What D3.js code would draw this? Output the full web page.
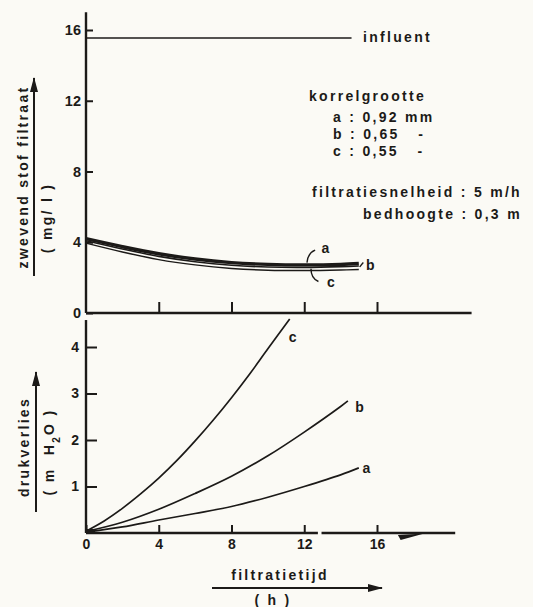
<!DOCTYPE html>
<head>
<meta charset="utf-8">
<script src="https://d3js.org/d3.v7.min.js"></script>
<style>
  body { margin: 0; background: #fbfaf5; }
  svg { display: block; }
  text { font-family: "Liberation Sans", Arial, sans-serif; font-weight: bold; fill: #1c1a18; }
  .lbl { font-size: 14px; letter-spacing: 2.3px; }
</style>
</head>
<body>
<script>
var W = 533, H = 607;
var ink = "#1c1a18";

// filtratietijd (h)
var xTicks = [0, 4, 8, 12, 16];

// top panel: zwevend stof filtraat (mg/l)
var topTicks = [0, 4, 8, 12, 16];
var influent = 15.55;
var influentEnd = 14.6;
var tTop = [0, 2, 4, 6, 8, 10, 12, 14, 15];
var ssA = [4.2, 3.75, 3.35, 3.05, 2.85, 2.75, 2.72, 2.75, 2.8];
var ssB = [4.08, 3.62, 3.2, 2.9, 2.7, 2.6, 2.58, 2.62, 2.66];
var ssC = [3.95, 3.45, 3.02, 2.72, 2.52, 2.42, 2.4, 2.43, 2.46];

// bottom panel: drukverlies (m H2O)
var botTicks = [1, 2, 3, 4];
var tA = [0, 2, 4, 6, 8, 10, 12, 14, 15];
var dpA = [0.02, 0.13, 0.28, 0.42, 0.57, 0.77, 1.0, 1.25, 1.4];
var tB = [0, 2, 4, 6, 8, 10, 12, 14, 14.4];
var dpB = [0.03, 0.23, 0.51, 0.85, 1.22, 1.66, 2.17, 2.72, 2.84];
var tC = [0, 1, 2, 3, 4, 5, 6, 7, 8, 9, 10, 11.2];
var dpC = [0.04, 0.26, 0.53, 0.84, 1.18, 1.56, 1.98, 2.43, 2.91, 3.42, 3.96, 4.6];

var svg = d3.select("body").append("svg")
    .attr("width", W)
    .attr("height", H);

svg.append("defs").append("marker")
    .attr("id", "arr")
    .attr("markerUnits", "userSpaceOnUse")
    .attr("markerWidth", 16).attr("markerHeight", 10)
    .attr("refX", 14).attr("refY", 5)
    .attr("orient", "auto")
  .append("path")
    .attr("d", "M0,1 L15,5 L0,9 Z")
    .attr("fill", ink);

var x = d3.scaleLinear().domain([0, 16]).range([86, 377]);
var yTop = d3.scaleLinear().domain([0, 16]).range([313, 30]);
var yBot = d3.scaleLinear().domain([0, 4]).range([533, 347]);

function styleAxis(g, size) {
    g.select(".domain").remove();
    g.selectAll(".tick line").attr("stroke", ink).attr("stroke-width", 2);
    g.selectAll(".tick text")
        .attr("fill", ink)
        .style("font-family", "Liberation Sans, Arial, sans-serif")
        .style("font-weight", "bold")
        .style("font-size", size + "px");
}

function axisLine(x1, y1, x2, y2) {
    svg.append("line")
        .attr("x1", x1).attr("y1", y1).attr("x2", x2).attr("y2", y2)
        .attr("stroke", ink).attr("stroke-width", 2.4);
}

// ---------- top panel ----------
svg.append("g")
    .attr("transform", "translate(" + x(0) + ",0)")
    .call(d3.axisLeft(yTop).tickValues(topTicks).tickSize(-7).tickPadding(5).tickFormat(d3.format("d")))
    .call(styleAxis, 14.5);

svg.append("g")
    .attr("transform", "translate(0," + yTop(0) + ")")
    .call(d3.axisBottom(x).tickValues([4, 8, 12, 16]).tickSize(-11).tickFormat(""))
    .call(styleAxis, 14);

axisLine(x(0), yTop(17.0), x(0), yTop(0));
axisLine(x(0), yTop(0), x(21.2), yTop(0));

// influent line
svg.append("line")
    .attr("x1", x(0)).attr("x2", x(influentEnd))
    .attr("y1", yTop(influent)).attr("y2", yTop(influent))
    .attr("stroke", ink).attr("stroke-width", 1.6);
svg.append("text").attr("class", "lbl")
    .attr("x", 363).attr("y", yTop(influent) + 4)
    .text("influent");

var lineTop = d3.line()
    .x(function(d) { return x(d[0]); })
    .y(function(d) { return yTop(d[1]); })
    .curve(d3.curveCatmullRom);

[[ssA, 3.4], [ssB, 1.6], [ssC, 1.4]].forEach(function(s) {
    svg.append("path")
        .datum(d3.zip(tTop, s[0]))
        .attr("d", lineTop)
        .attr("fill", "none")
        .attr("stroke", ink)
        .attr("stroke-width", s[1]);
});

// little leaders a / b / c
function leader(p0, c, p1) {
    svg.append("path")
        .attr("d", "M" + x(p0[0]) + "," + yTop(p0[1]) +
                   " Q" + x(c[0]) + "," + yTop(c[1]) +
                   " " + x(p1[0]) + "," + yTop(p1[1]))
        .attr("fill", "none").attr("stroke", ink).attr("stroke-width", 1.4);
}
leader([12.15, 2.85], [12.2, 3.4], [12.6, 3.56]);
leader([15.05, 2.6], [15.12, 2.72], [15.25, 2.86]);
leader([12.37, 2.5], [12.37, 1.95], [12.78, 1.78]);
svg.append("text").attr("class", "lbl").attr("x", x(12.95)).attr("y", yTop(3.42)).text("a");
svg.append("text").attr("class", "lbl").attr("x", x(15.4)).attr("y", yTop(2.42)).text("b");
svg.append("text").attr("class", "lbl").attr("x", x(13.25)).attr("y", yTop(1.47)).text("c");

// legend block
var legend = [
    ["korrelgrootte", 309, 101],
    ["a : 0,92 mm", 333, 122],
    ["b : 0,65   -", 333, 139],
    ["c : 0,55   -", 333, 156],
    ["filtratiesnelheid : 5 m/h", 312, 197],
    ["bedhoogte : 0,3 m", 363, 219]
];
legend.forEach(function(l) {
    svg.append("text").attr("class", "lbl")
        .attr("x", l[1]).attr("y", l[2])
        .style("white-space", "pre")
        .text(l[0]);
});

// y title top
svg.append("text").attr("class", "lbl")
    .attr("transform", "translate(28,177) rotate(-90)")
    .attr("text-anchor", "middle")
    .text("zwevend stof  filtraat");
svg.append("text").attr("class", "lbl")
    .attr("transform", "translate(52,218) rotate(-90)")
    .attr("text-anchor", "middle")
    .style("white-space", "pre")
    .text("( mg/ l )");
svg.append("line")
    .attr("x1", 34).attr("y1", 276).attr("x2", 34).attr("y2", 78)
    .attr("stroke", ink).attr("stroke-width", 2)
    .attr("marker-end", "url(#arr)");

// ---------- bottom panel ----------
svg.append("g")
    .attr("transform", "translate(" + x(0) + ",0)")
    .call(d3.axisLeft(yBot).tickValues(botTicks).tickSize(-11).tickPadding(7).tickFormat(d3.format("d")))
    .call(styleAxis, 14);

svg.append("g")
    .attr("transform", "translate(0," + yBot(0) + ")")
    .call(d3.axisBottom(x).tickValues(xTicks).tickSize(-8).tickPadding(6))
    .call(styleAxis, 14);

axisLine(x(0), yBot(4.58), x(0), yBot(0));
axisLine(x(0), yBot(0), x(12.75), yBot(0));
axisLine(x(12.95), yBot(0), x(20.3), yBot(0));

// wedge on the time axis
svg.append("path")
    .attr("d", "M" + x(17.15) + "," + (yBot(0) + 2) +
               " L" + x(17.3) + "," + (yBot(0) + 7) +
               " L" + x(18.6) + "," + (yBot(0) + 0.5) + " Z")
    .attr("fill", ink);

var lineBot = d3.line()
    .x(function(d) { return x(d[0]); })
    .y(function(d) { return yBot(d[1]); })
    .curve(d3.curveCatmullRom);

[[tA, dpA], [tB, dpB], [tC, dpC]].forEach(function(s) {
    svg.append("path")
        .datum(d3.zip(s[0], s[1]))
        .attr("d", lineBot)
        .attr("fill", "none")
        .attr("stroke", ink)
        .attr("stroke-width", 1.7);
});

// thick blob at origin
svg.append("rect")
    .attr("x", x(0)).attr("y", yBot(0) - 4)
    .attr("width", 9).attr("height", 5)
    .attr("fill", ink);

svg.append("text").attr("class", "lbl").attr("x", x(11.15)).attr("y", yBot(4.1)).text("c");
svg.append("text").attr("class", "lbl").attr("x", x(14.8)).attr("y", yBot(2.6)).text("b");
svg.append("text").attr("class", "lbl").attr("x", x(15.2)).attr("y", yBot(1.28)).text("a");

// y title bottom
svg.append("text").attr("class", "lbl")
    .attr("transform", "translate(29,447) rotate(-90)")
    .attr("text-anchor", "middle")
    .text("drukverlies");
var t2 = svg.append("text").attr("class", "lbl")
    .attr("transform", "translate(54,452) rotate(-90)")
    .attr("text-anchor", "middle")
    .style("white-space", "pre");
t2.append("tspan").text("( m  H");
t2.append("tspan").attr("baseline-shift", "sub").style("font-size", "10px").text("2");
t2.append("tspan").text("O )");
svg.append("line")
    .attr("x1", 36).attr("y1", 512).attr("x2", 36).attr("y2", 372)
    .attr("stroke", ink).attr("stroke-width", 2)
    .attr("marker-end", "url(#arr)");

// x title
svg.append("text").attr("class", "lbl")
    .attr("x", 280).attr("y", 580)
    .attr("text-anchor", "middle")
    .text("filtratietijd");
svg.append("line")
    .attr("x1", 212).attr("y1", 588).attr("x2", 382).attr("y2", 588)
    .attr("stroke", ink).attr("stroke-width", 2)
    .attr("marker-end", "url(#arr)");
svg.append("text").attr("class", "lbl")
    .attr("x", 273).attr("y", 605)
    .attr("text-anchor", "middle")
    .style("white-space", "pre")
    .text("( h )");
</script>
</body>
